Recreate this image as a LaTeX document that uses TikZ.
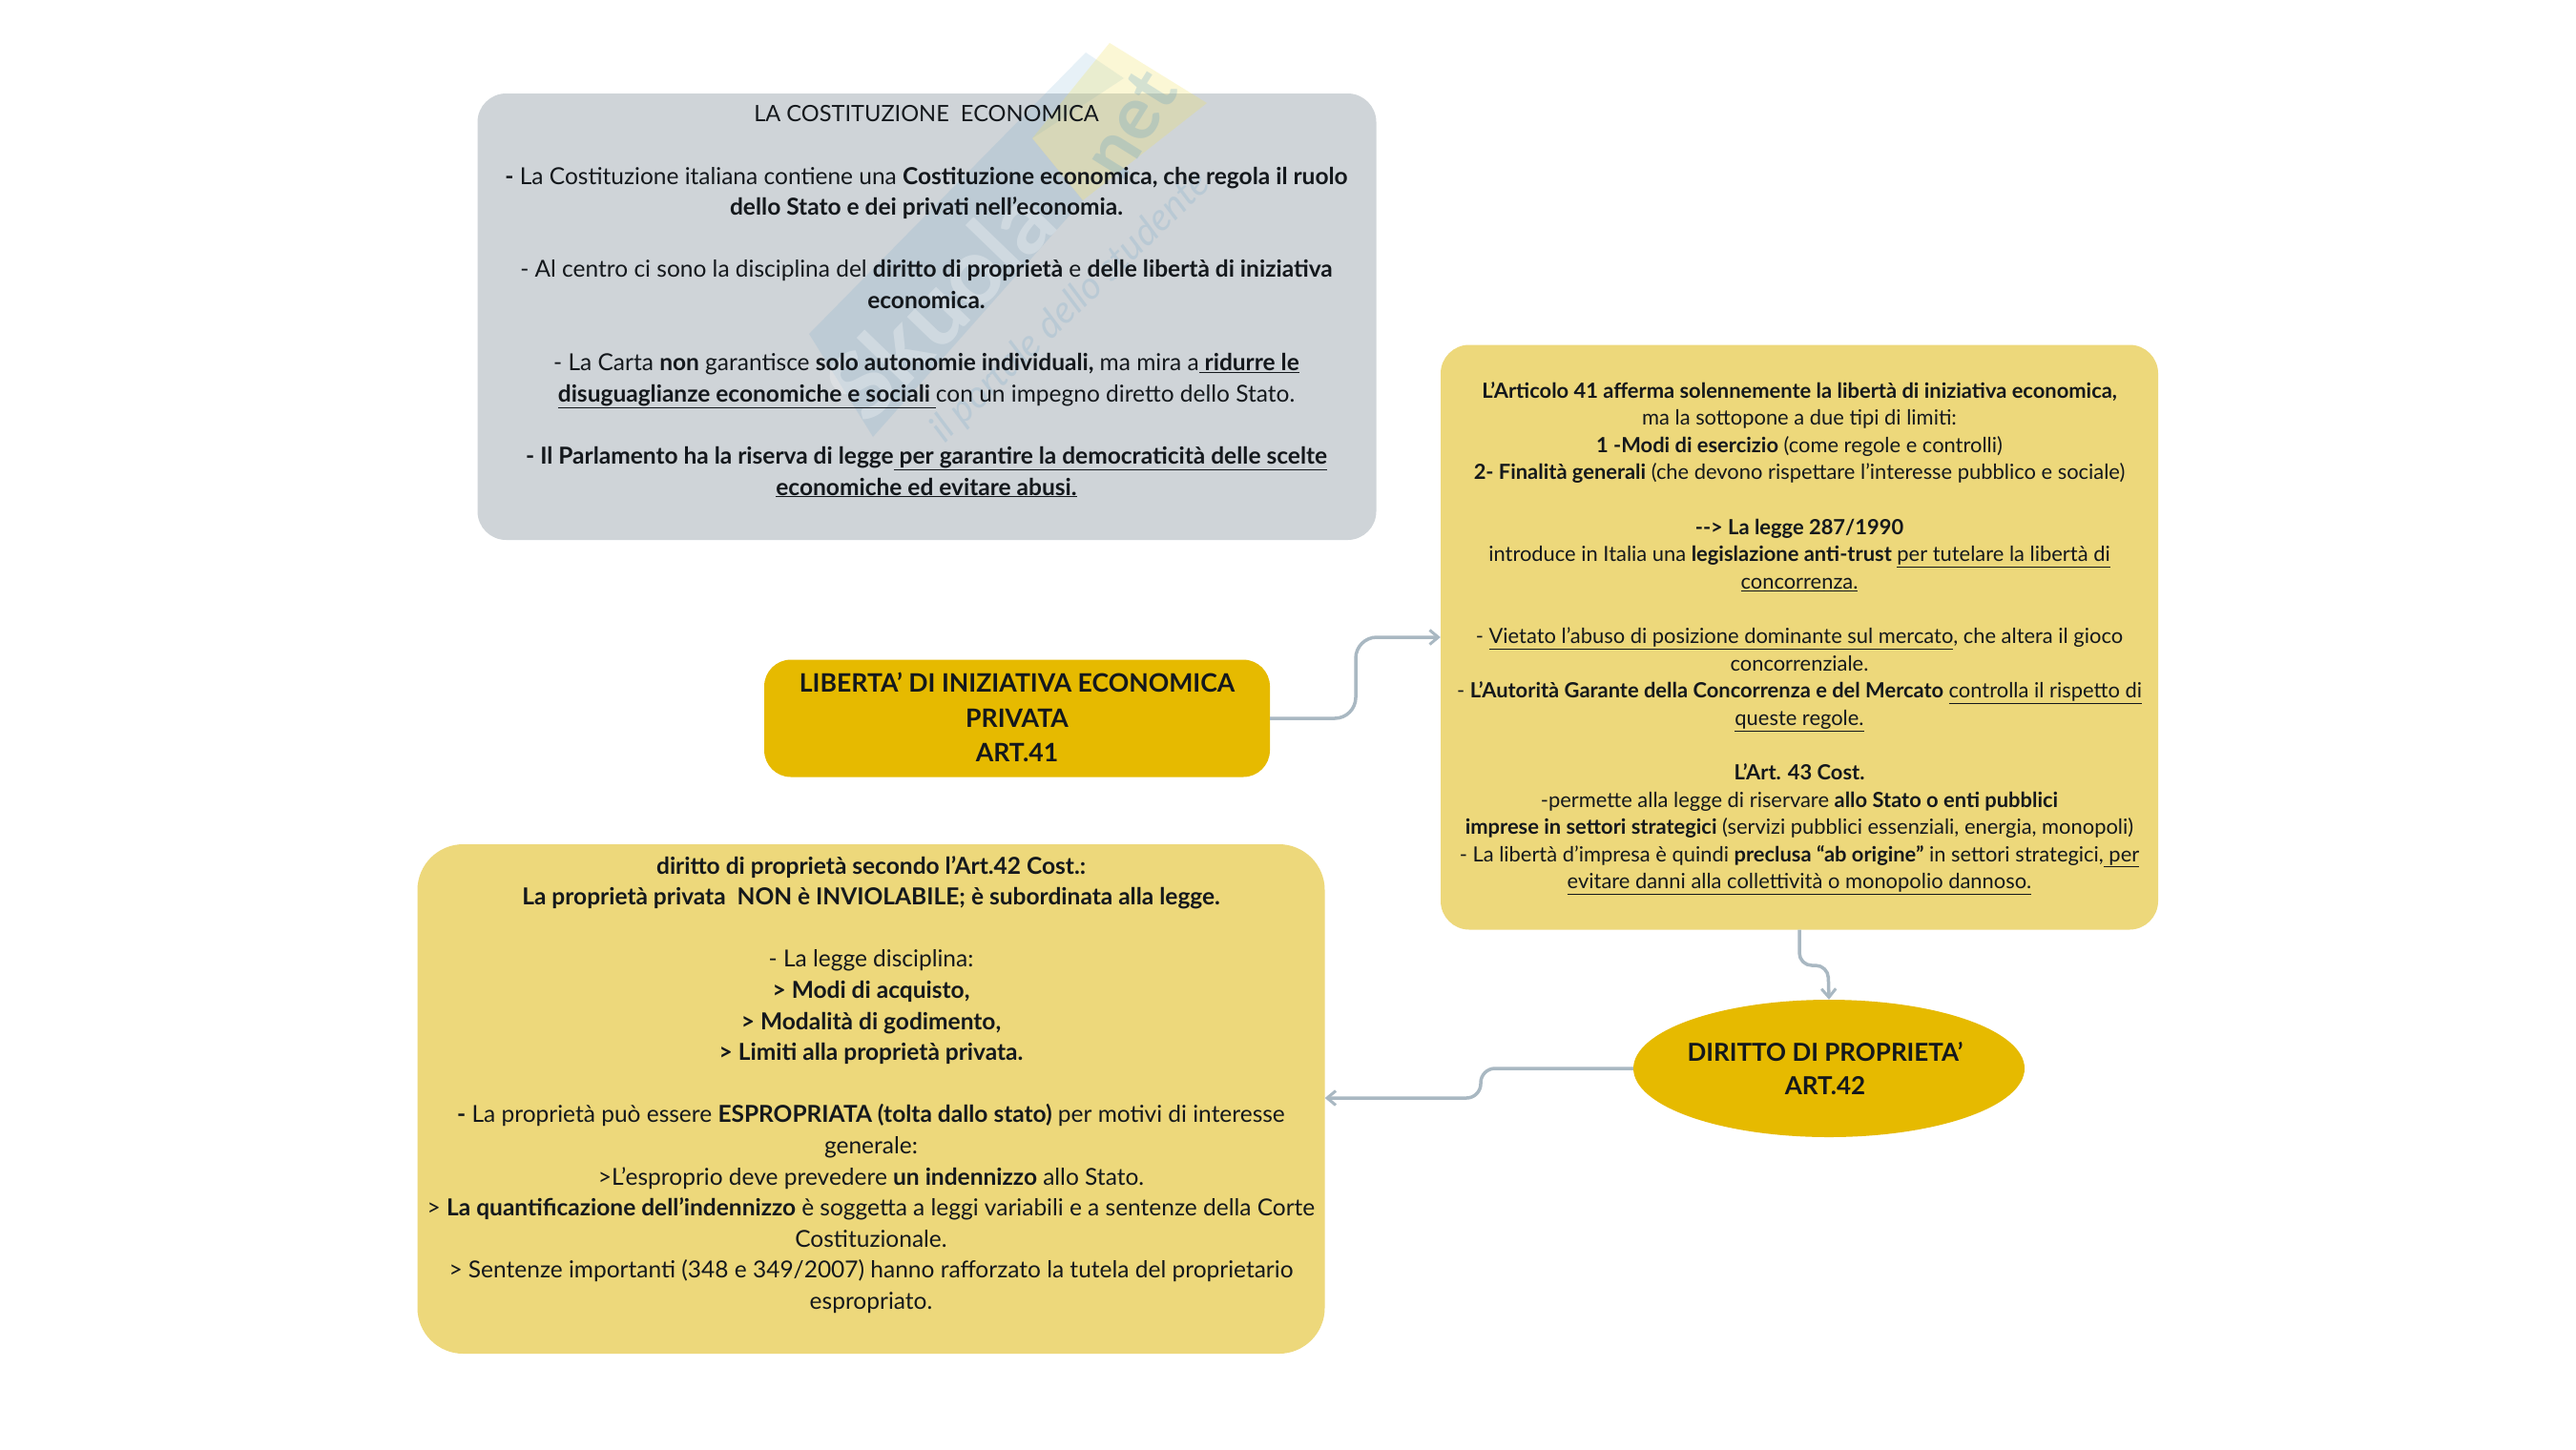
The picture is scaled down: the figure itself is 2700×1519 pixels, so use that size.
\documentclass[tikz,border=0pt]{standalone}
\usepackage{fontspec}
\setmainfont{Lato}
\usetikzlibrary{shapes.geometric,arrows.meta}
\definecolor{greybox}{HTML}{CFD4D8}
\definecolor{paleyellow}{HTML}{EDD87B}
\definecolor{gold}{HTML}{E6BA00}
\definecolor{linkc}{HTML}{A9B8C2}
\definecolor{ink}{HTML}{14181C}
\definecolor{wmblue}{HTML}{4A94C4}
\definecolor{wmyellow}{HTML}{F2E25A}
\newcommand{\ul}[1]{\underline{#1}}
\newcommand{\bo}[1]{\textbf{#1}}
\tikzset{
 x=1pt,y=-1pt,
 boxbg/.style={rounded corners=30pt,inner sep=0pt},
 bigtxt/.style={align=center,text=ink,font=\fontsize{24.5}{32.6}\selectfont,inner sep=0pt},
 smalltxt/.style={align=center,text=ink,font=\fontsize{21.9}{28.6}\selectfont,inner sep=0pt},
 headtxt/.style={align=center,text=ink,font=\fontsize{26.6}{36.5}\selectfont\bfseries,inner sep=0pt},
 link/.style={draw=linkc,line width=3.5pt,-{Straight Barb[length=9pt,width=15pt,line width=3pt]},rounded corners=22pt},
}
\begin{document}
\begin{tikzpicture}
\useasboundingbox (0,0) rectangle (2700,1519);
\fill[white] (0,0) rectangle (2700,1519);
% boxes
\node[boxbg,fill=greybox,minimum width=942pt,minimum height=468pt,rounded corners=30pt] (cost) at (971.5,332) {};
\node[boxbg,fill=gold,minimum width=530pt,minimum height=123pt,rounded corners=28pt] (lib) at (1066,753) {};
\node[boxbg,fill=paleyellow,minimum width=752pt,minimum height=613pt] (art) at (1886,668) {};
\node[ellipse,fill=gold,minimum width=410pt,minimum height=144pt,inner sep=0pt] (dir) at (1917,1120) {};
\node[boxbg,fill=paleyellow,minimum width=951pt,minimum height=534pt,rounded corners=48pt] (prop) at (913,1152) {};
% watermark
\fill[wmblue,opacity=.13] (1138,55) -- (1178,82) -- (1082,145) -- (1135,210) -- (915,458) -- (848,350) -- cycle;
\fill[wmyellow,opacity=.25] (1163,45) -- (1265,108) -- (1135,210) -- (1082,145) -- cycle;
\node[rotate=46,text=white,opacity=.28,font=\fontsize{98}{98}\selectfont\bfseries,inner sep=0pt] (wm1) at (985,318) {Skuola};
\node[rotate=58,text=wmblue,opacity=.22,font=\fontsize{78}{78}\selectfont\bfseries,inner sep=0pt] (wm2) at (1185,130) {net};
\node[rotate=44,text=wmblue,opacity=.16,font=\fontsize{40}{40}\selectfont\itshape,inner sep=0pt] (wm3) at (1122,322) {il portale dello studente};
% texts
\node[bigtxt] (costt) at (971,316) {{\fontsize{23.6}{32.6}\selectfont LA COSTITUZIONE\ \ ECONOMICA}\\[32.6pt]
\bo{-} La Costituzione italiana contiene una \bo{Costituzione economica, che regola il ruolo}\\
\bo{dello Stato e dei privati nell’economia.}\\[32.6pt]
- Al centro ci sono la disciplina del \bo{diritto di proprietà} e \bo{delle libertà di iniziativa}\\
\bo{economica.}\\[32.6pt]
- La Carta \bo{non} garantisce \bo{solo autonomie individuali,} ma mira a\ul{\bo{ ridurre le}}\\
\ul{\bo{disuguaglianze economiche e sociali }}con un impegno diretto dello Stato.\\[32.6pt]
\bo{- Il Parlamento ha la riserva di legge}\ul{\bo{ per garantire la democraticità delle scelte}}\\
\ul{\bo{economiche ed evitare abusi.}}};
\node[headtxt] (libt) at (1066,752) {LIBERTA’ DI INIZIATIVA ECONOMICA\\PRIVATA\\ART.41};
\node[smalltxt] (artt) at (1886,669) {\bo{L’Articolo 41 afferma solennemente la libertà di iniziativa economica,}\\
ma la sottopone a due tipi di limiti:\\
\bo{1 -Modi di esercizio} (come regole e controlli)\\
\bo{2- Finalità generali} (che devono rispettare l’interesse pubblico e sociale)\\[28.6pt]
\bo{-{}-> La legge 287/1990}\\
introduce in Italia una \bo{legislazione anti-trust} \ul{per tutelare la libertà di}\\
\ul{concorrenza.}\\[28.6pt]
- \ul{Vietato l’abuso di posizione dominante sul mercato}, che altera il gioco\\
concorrenziale.\\
- \bo{L’Autorità Garante della Concorrenza e del Mercato} \ul{controlla il rispetto di}\\
\ul{queste regole.}\\[28.6pt]
\bo{L’Art. 43 Cost.}\\
-permette alla legge di riservare \bo{allo Stato o enti pubblici}\\
\bo{imprese in settori strategici} (servizi pubblici essenziali, energia, monopoli)\\
- La libertà d’impresa è quindi \bo{preclusa “ab origine”} in settori strategici,\ul{ per}\\
\ul{evitare danni alla collettività o monopolio dannoso.}};
\node[headtxt,font=\fontsize{26}{35}\selectfont\bfseries] (dirt) at (1913,1120) {DIRITTO DI PROPRIETA’\\ART.42};
\node[bigtxt] (propt) at (913,1137) {\bo{diritto di proprietà secondo l’Art.42 Cost.:}\\
\bo{La proprietà privata\ \ NON è INVIOLABILE; è subordinata alla legge.}\\[32.6pt]
- La legge disciplina:\\
\bo{> Modi di acquisto,}\\
\bo{> Modalità di godimento,}\\
\bo{> Limiti alla proprietà privata.}\\[32.6pt]
\bo{-} La proprietà può essere \bo{ESPROPRIATA (tolta dallo stato)} per motivi di interesse\\
generale:\\
>L’esproprio deve prevedere \bo{un indennizzo} allo Stato.\\
> \bo{La quantificazione dell’indennizzo} è soggetta a leggi variabili e a sentenze della Corte\\
Costituzionale.\\
> Sentenze importanti (348 e 349/2007) hanno rafforzato la tutela del proprietario\\
espropriato.};
% connectors
\coordinate (a1) at (1421,753);
\coordinate (a2) at (1421,668);
\draw[link] (lib.east) -- (a1) -- (a2) -- (art.west |- a2);
\coordinate (b1) at (1886,1012);
\coordinate (b2) at (1916,1012);
\draw[link,rounded corners=13pt] (art.south) -- (b1) -- (b2) -- (dir.north);
\coordinate (c1) at (1552,1120);
\coordinate (c2) at (1552,1151);
\draw[link,rounded corners=15pt] (dir.west) -- (c1) -- (c2) -- (prop.east |- c2);
\end{tikzpicture}
\end{document}
